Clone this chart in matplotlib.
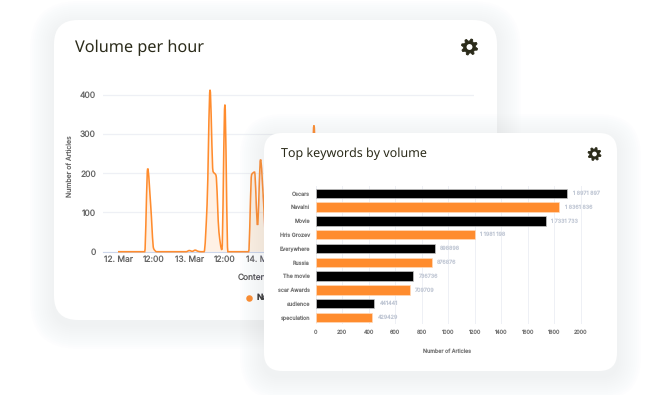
"""
Volume per hour card with the top keywords card on top of it
"""
import numpy as np
import matplotlib
matplotlib.use("Agg")
import matplotlib.pyplot as plt
from matplotlib.patches import FancyBboxPatch, PathPatch, Circle, Polygon
from matplotlib.path import Path

W, H = 670, 395
ORANGE = "#ff8c2e"
GRID = "#eef0f5"

# hourly counts, starting 12. Mar 00:00 (part behind the front card is a guess)
hourly = [0, 0, 0, 0, 0, 0, 0, 0, 0, 0, 212, 120, 8, 0, 0, 0, 0, 0, 0, 0, 0, 0, 0, 0,
          3, 1, 4, 1, 0, 0, 120, 413, 205, 195, 50, 5, 375, 0, 0, 0, 0, 0, 0, 0,
          0, 197, 203, 68, 235, 130, 0, 0, 0, 0, 0, 0, 0, 0, 0, 0, 0, 0, 0, 0,
          0, 110, 322, 100, 0, 0, 0, 0]
time_ticks = [0, 12, 24, 36, 48]
time_labels = ["12. Mar", "12:00", "13. Mar", "12:00", "14. Mar"]
volume_ticks = [0, 100, 200, 300, 400]

keywords = ["Oscars", "Navalni", "Movie", "Hris Grozev", "Everywhere", "Russia",
            "The movie", "scar Awards", "audience", "speculation"]
articles = [1897, 1836, 1733, 1198, 898, 876, 736, 709, 441, 429]
bar_labels = ["1 8971 897", "1 8361 836", "1 7331 733", "1 1981 198", "898898",
              "876876", "736736", "709709", "441441", "429429"]
article_ticks = [0, 200, 400, 600, 800, 1000, 1200, 1400, 1600, 1800, 2000]

plt.rcParams["font.family"] = ["Inter", "DejaVu Sans"]
plt.rcParams["text.hinting"] = "none"

fig = plt.figure(figsize=(W / 100, H / 100), dpi=100)
fig.patch.set_facecolor("white")


def px_axes(left, top, right, bottom, z):
    return fig.add_axes([left / W, 1 - bottom / H, (right - left) / W, (bottom - top) / H], zorder=z)


def overlay(z):
    ax = fig.add_axes([0, 0, 1, 1], zorder=z)
    ax.set_xlim(0, W)
    ax.set_ylim(H, 0)
    ax.axis("off")
    ax.patch.set_alpha(0)
    return ax


def card(ax, left, top, right, bottom, radius):
    # soft shadow, a stack of see through boxes
    for pad in range(24, 0, -2):
        ax.add_patch(FancyBboxPatch((left - pad, top - pad + 5), right - left + 2 * pad,
                                    bottom - top + 2 * pad,
                                    boxstyle="round,pad=0,rounding_size=%d" % (radius + pad),
                                    fc="#a4a8cc", ec="none", alpha=0.013))
    ax.add_patch(FancyBboxPatch((left, top), right - left, bottom - top,
                                boxstyle="round,pad=0,rounding_size=%d" % radius,
                                fc="white", ec="none"))


def gear(ax, cx, cy, r, color="#2b2b1a"):
    teeth = 8
    ang = np.linspace(0, 2 * np.pi, teeth * 4, endpoint=False) + np.pi / teeth / 2
    rad = np.tile([r, r, r * 0.72, r * 0.72], teeth)
    ax.add_patch(Polygon(np.c_[cx + rad * np.cos(ang), cy + rad * np.sin(ang)],
                         fc=color, ec=color, lw=0.6, joinstyle="round"))
    ax.add_patch(Circle((cx, cy), r * 0.36, fc="white", ec="none"))


def smooth_path(x, y):
    # monotone cubic through the points, same look as the spline of the original
    x = np.asarray(x, dtype=float)
    y = np.asarray(y, dtype=float)
    d = np.diff(y) / np.diff(x)
    m = np.zeros(len(x))
    for i in range(1, len(x) - 1):
        if d[i - 1] * d[i] > 0:
            m[i] = 2 * d[i - 1] * d[i] / (d[i - 1] + d[i])
    verts = [(x[0], y[0])]
    codes = [Path.MOVETO]
    for i in range(len(x) - 1):
        h = (x[i + 1] - x[i]) / 3
        verts += [(x[i] + h, y[i] + m[i] * h), (x[i + 1] - h, y[i + 1] - m[i + 1] * h), (x[i + 1], y[i + 1])]
        codes += [Path.CURVE4] * 3
    return verts, codes


# back card
back = overlay(0)
card(back, 54, 20, 497, 320, 24)
back.text(75, 47.5, "Volume per hour", fontsize=11.7, color="#2b2b1a", va="center", family=["Noto Sans"])
gear(back, 469.5, 47, 8.2)
back.text(238, 278, "Content", fontsize=6.0, color="#555555", va="center", ha="left")
back.scatter([249], [297.5], s=22, color=ORANGE, linewidths=0)
back.text(257, 297.5, "Navalni", fontsize=6.0, fontweight="bold", color="#333333", va="center")

ax1 = px_axes(103, 80, 474, 251.7, 1)
ax1.patch.set_alpha(0)
hours = np.arange(len(hourly))
verts, codes = smooth_path(hours, hourly)
fill_verts = verts + [(hours[-1], 0), (hours[0], 0), (hours[0], 0)]
fill_codes = codes + [Path.LINETO, Path.LINETO, Path.CLOSEPOLY]
ax1.add_patch(PathPatch(Path(fill_verts, fill_codes), fc=ORANGE, ec="none", alpha=0.12))
ax1.add_patch(PathPatch(Path(verts, codes), fc="none", ec=ORANGE, lw=1.15, clip_on=False, zorder=3))
ax1.set_xlim(-5.05, 119.9)
ax1.set_ylim(0, 438)
ax1.set_xticks(time_ticks)
ax1.set_xticklabels(time_labels)
ax1.set_yticks(volume_ticks)
ax1.grid(axis="y", color=GRID, lw=0.9)
ax1.set_axisbelow(True)
ax1.tick_params(length=0, labelsize=6.1, labelcolor="#666666", pad=3)
ax1.tick_params(axis="y", pad=5)
for s in ["top", "right", "left"]:
    ax1.spines[s].set_visible(False)
ax1.spines["bottom"].set_color("#ccd6eb")
ax1.spines["bottom"].set_linewidth(0.8)
ax1.set_ylabel("Number of Articles", fontsize=5.0, color="#666666", labelpad=5)

# front card
front = overlay(2)
card(front, 264, 133, 617, 371, 18)
front.text(281, 154, "Top keywords by volume", fontsize=9.0, color="#2b2b1a", va="center", family=["Noto Sans"])
gear(front, 594.5, 154, 6.6)
front.text(447, 351.5, "Number of Articles", fontsize=3.9, color="#777777", va="center", ha="center")

ax2 = px_axes(315.5, 186.4, 600, 324.4, 3)
ax2.patch.set_alpha(0)
ypos = np.arange(len(keywords))
colors = ["black" if i % 2 == 0 else ORANGE for i in ypos]
edges = ["#c4c4c4" if i % 2 == 0 else "#ffd9b8" for i in ypos]
ax2.barh(ypos, articles, height=0.68, color=colors, edgecolor=edges, linewidth=0.5, zorder=2)
for y, val, lab in zip(ypos, articles, bar_labels):
    ax2.annotate(lab, (val, y), xytext=(4, 0), textcoords="offset points", va="center",
                 fontsize=3.9, color="#c0c7d4")
ax2.set_ylim(len(keywords) - 0.5, -0.5)
ax2.set_xlim(0, 2000 * (600 - 315.5) / (581 - 315.5))
ax2.set_yticks(ypos)
ax2.set_yticklabels(keywords)
ax2.set_xticks(article_ticks)
ax2.grid(axis="x", color=GRID, lw=0.7)
ax2.set_axisbelow(True)
ax2.tick_params(length=0, labelsize=3.9, labelcolor="#777777", pad=4)
for s in ax2.spines.values():
    s.set_visible(False)

fig.savefig("out.png", dpi=100)
